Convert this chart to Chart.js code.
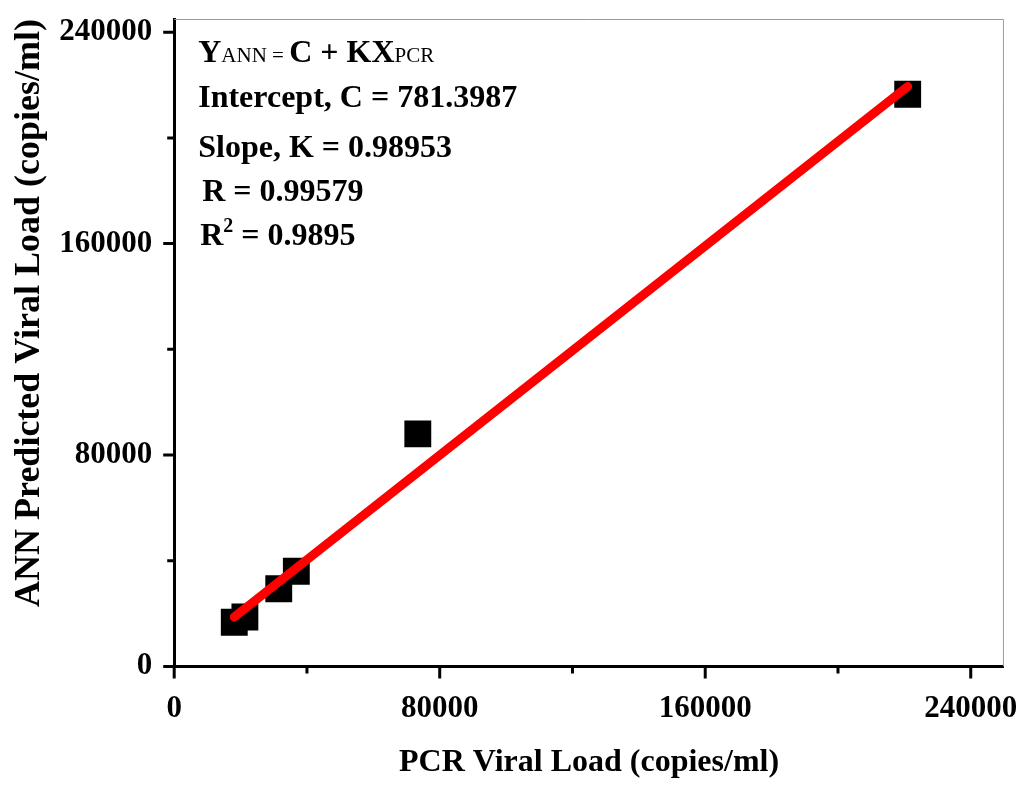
<!DOCTYPE html>
<html>
<head>
<meta charset="utf-8">
<script src="https://cdn.jsdelivr.net/npm/chart.js@4"></script>
<style>
  body { margin: 0; background: #fff; }
</style>
</head>
<body>
<canvas id="viralLoadChart" width="1023" height="785"></canvas>
<script>
// PCR vs ANN predicted viral load
const pcrValues = [18100, 21300, 31500, 36800, 73400, 221000];
const annValues = [16700, 18700, 29400, 36000, 88000, 216500];
const intercept = 781.3987;
const slope = 0.98953;
const tickValues = [0, 80000, 160000, 240000];            // hoofdstreepjes met label
const minorTicks = [40000, 120000, 200000];               // kleine streepjes
const allTicks = [...tickValues, ...minorTicks].sort((a, b) => a - b);

const serif = '"Liberation Serif", "Times New Roman", serif';

const points = pcrValues.map((x, i) => ({ x: x, y: annValues[i] }));
const xMin = Math.min(...pcrValues);
const xMax = Math.max(...pcrValues);
const fitLine = [
    { x: xMin, y: intercept + slope * xMin },
    { x: xMax, y: intercept + slope * xMax }
];

// grijs kader boven en rechts + streepjes op de assen
const frame = {
    id: 'frame',
    beforeDatasetsDraw(chart) {
        const a = chart.chartArea;
        const ctx = chart.ctx;
        ctx.save();
        ctx.strokeStyle = '#9a9a9a';
        ctx.lineWidth = 1;
        ctx.beginPath();
        ctx.moveTo(a.left, a.top + 0.5);
        ctx.lineTo(a.right - 0.5, a.top + 0.5);
        ctx.lineTo(a.right - 0.5, a.bottom);
        ctx.stroke();

        ctx.strokeStyle = '#000';
        ctx.lineWidth = 3;
        ctx.beginPath();
        allTicks.forEach(v => {
            const major = tickValues.includes(v);
            const px = chart.scales.x.getPixelForValue(v);
            ctx.moveTo(px, a.bottom);
            ctx.lineTo(px, a.bottom + (major ? 12 : 7));
            const py = chart.scales.y.getPixelForValue(v);
            ctx.moveTo(a.left, py);
            ctx.lineTo(a.left - (major ? 11 : 7), py);
        });
        ctx.stroke();
        ctx.restore();
    }
};

// vergelijking en statistieken linksboven
const equation = {
    id: 'equation',
    afterDraw(chart) {
        const ctx = chart.ctx;
        const a = chart.chartArea;
        const x0 = a.left + 24;
        const bold = 'bold 32px ' + serif;
        const small = '21px ' + serif;
        ctx.save();
        ctx.fillStyle = '#000';
        ctx.textBaseline = 'alphabetic';
        ctx.textAlign = 'left';

        const parts = [
            ['Y', bold], ['ANN', small], [' = ', small],
            ['C + KX', bold], ['PCR', small]
        ];
        let x = x0;
        parts.forEach(([t, f]) => {
            ctx.font = f;
            ctx.fillText(t, x, 62);
            x += ctx.measureText(t).width;
        });

        ctx.font = bold;
        ctx.fillText('Intercept, C = ' + intercept.toFixed(4), x0, 107);
        ctx.fillText('Slope, K = ' + slope, x0, 157);
        ctx.fillText('R = 0.99579', x0 + 4, 201);

        ctx.fillText('R', x0 + 2, 245);
        let rx = x0 + 2 + ctx.measureText('R').width;
        ctx.font = 'bold 20px ' + serif;
        ctx.fillText('2', rx, 232);
        rx += ctx.measureText('2').width;
        ctx.font = bold;
        ctx.fillText(' = 0.9895', rx, 245);
        ctx.restore();
    }
};

const setTicks = s => { s.ticks = allTicks.map(v => ({ value: v })); };
const hidden = 'rgba(0,0,0,0)';

const ctx = document.getElementById('viralLoadChart').getContext('2d');

new Chart(ctx, {
    type: 'scatter',
    data: {
        datasets: [{
            type: 'line',
            label: 'Fit',
            data: fitLine,
            borderColor: '#ff0000',
            borderWidth: 9,
            borderCapStyle: 'round',
            pointRadius: 0,
            order: 0
        }, {
            label: 'Data',
            data: points,
            pointStyle: 'rect',
            pointRadius: 19,
            pointHoverRadius: 19,
            backgroundColor: '#000',
            borderColor: '#000',
            borderWidth: 0,
            order: 1
        }]
    },
    options: {
        responsive: false,
        animation: false,
        layout: { padding: { left: 6, top: 6, right: 6, bottom: 3 } },
        plugins: {
            legend: { display: false },
            tooltip: { enabled: false }
        },
        scales: {
            x: {
                type: 'linear',
                min: 0,
                max: 250000,
                afterBuildTicks: setTicks,
                ticks: {
                    color: '#000',
                    padding: 5,
                    maxRotation: 0,
                    autoSkip: false,
                    font: { family: serif, size: 31, weight: 'bold' },
                    callback: v => tickValues.includes(v) ? String(v) : ''
                },
                grid: { drawOnChartArea: false, tickLength: 19, tickColor: hidden },
                border: { color: '#000', width: 3 },
                title: {
                    display: true,
                    text: 'PCR Viral Load (copies/ml)',
                    color: '#000',
                    font: { family: serif, size: 32, weight: 'bold' },
                    padding: { top: 11, bottom: 0 }
                }
            },
            y: {
                type: 'linear',
                min: 0,
                max: 245000,
                afterBuildTicks: setTicks,
                ticks: {
                    color: '#000',
                    padding: 0,
                    autoSkip: false,
                    font: { family: serif, size: 31, weight: 'bold' },
                    callback: v => tickValues.includes(v) ? String(v) : ''
                },
                grid: { drawOnChartArea: false, tickLength: 22, tickColor: hidden },
                border: { color: '#000', width: 3 },
                title: {
                    display: true,
                    align: 'end',
                    text: 'ANN Predicted Viral Load (copies/ml)',
                    color: '#000',
                    font: { family: serif, size: 36, weight: 'bold' },
                    padding: { top: 2, bottom: 8 }
                }
            }
        }
    },
    plugins: [frame, equation]
});
</script>
</body>
</html>
